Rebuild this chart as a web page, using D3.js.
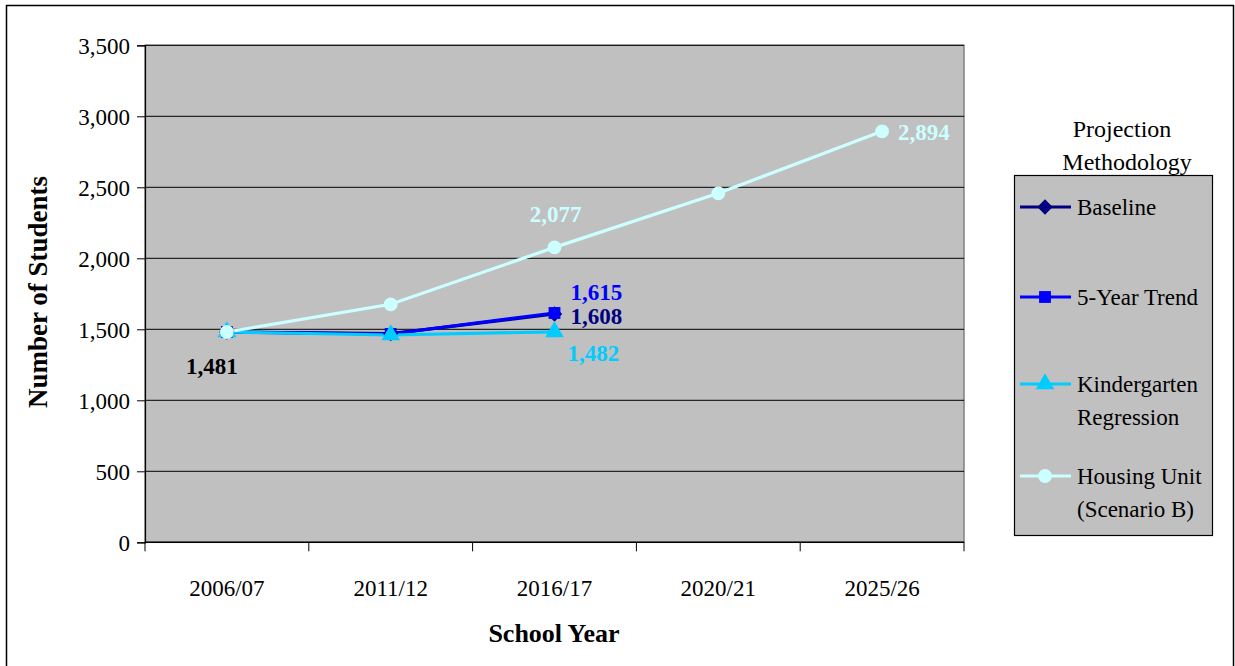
<!DOCTYPE html>
<html><head><meta charset="utf-8">
<script src="https://cdn.jsdelivr.net/npm/d3@7"></script>
<style>body{margin:0;background:#fff;} svg text{font-family:"Liberation Serif","Times New Roman",serif !important;}</style>
</head><body>
<svg id="chart" width="1235" height="666" font-family="Liberation Serif"></svg>
<script>
const categories = ["2006/07","2011/12","2016/17","2020/21","2025/26"];
const seriesNames = ["Baseline","5-Year Trend","Kindergarten Regression","Housing Unit (Scenario B)"];
const baseline = [1481,1470,1608];
const fiveYear = [1481,1467,1615];
const kinder = [1481,1460,1482];
const housing = [1481,1676,2077,2458,2894];
const yTicks = [0,500,1000,1500,2000,2500,3000,3500];

const colors = ["#000080","#0000FF","#00CCFF","#CCFFFF"];
const symbols = [d3.symbolDiamond2 || d3.symbolDiamond, d3.symbolSquare, d3.symbolTriangle, d3.symbolCircle];
const symSizes = [150,140,150,150];
const seriesData = [baseline, fiveYear, kinder, housing];
const FF = "Liberation Serif";

const svg = d3.select("#chart");
svg.append("rect").attr("x",6.5).attr("y",5.5).attr("width",1227).attr("height",680)
  .attr("fill","#fff").attr("stroke","#000").attr("stroke-width",1.5);

const L=145, R=964, T=45.3, B=542.3;
const x = d3.scaleBand().domain(categories).range([L,R]);
const y = d3.scaleLinear().domain([0,3500]).range([B,T]);

svg.append("rect").attr("x",L).attr("y",T).attr("width",R-L).attr("height",B-T)
  .attr("fill","#C0C0C0").attr("stroke","#808080").attr("stroke-width",1.5);

// gridlines
svg.append("g").selectAll("line").data(yTicks.filter(v=>v>0)).join("line")
  .attr("x1",L).attr("x2",R).attr("y1",d=>y(d)).attr("y2",d=>y(d))
  .attr("stroke","#000").attr("stroke-width",1);

// y axis
const yAxis = svg.append("g").attr("transform",`translate(${L},0)`)
  .call(d3.axisLeft(y).tickValues(yTicks).tickFormat(d3.format(",")).tickSize(8).tickPadding(7));
yAxis.attr("font-family",FF);
yAxis.selectAll("text").attr("font-size",23).attr("fill","#000").attr("dy","0.34em");
yAxis.select(".domain").attr("stroke","#000").attr("stroke-width",1.2);
yAxis.selectAll(".tick line").attr("stroke","#000");

// x axis with ticks at band boundaries
const xAxisG = svg.append("g").attr("transform",`translate(0,${B})`);
xAxisG.append("line").attr("x1",L).attr("x2",R).attr("stroke","#000").attr("stroke-width",1.5);
const bounds = categories.map(c=>x(c)).concat([R]);
xAxisG.selectAll("line.tk").data(bounds).join("line").attr("class","tk")
  .attr("x1",d=>d).attr("x2",d=>d).attr("y1",0).attr("y2",9).attr("stroke","#000");
xAxisG.selectAll("text").data(categories).join("text")
  .attr("x",d=>x(d)+x.bandwidth()/2).attr("y",54).attr("text-anchor","middle")
  .attr("font-size",23).attr("fill","#000").text(d=>d);

// axis titles
svg.append("text").attr("x",554).attr("y",642).attr("text-anchor","middle")
  .attr("font-size",26).attr("font-weight","bold").text("School Year");
svg.append("text").attr("transform","translate(47,292) rotate(-90)").attr("text-anchor","middle")
  .attr("font-size",27).attr("font-weight","bold").text("Number of Students");

// series
const cx = i => x(categories[i]) + x.bandwidth()/2;
seriesData.forEach((vals,s)=>{
  const line = d3.line().x((d,i)=>cx(i)).y(d=>y(d));
  svg.append("path").datum(vals).attr("d",line).attr("fill","none")
    .attr("stroke",colors[s]).attr("stroke-width",3.2);
});
seriesData.forEach((vals,s)=>{
  svg.append("g").selectAll("path").data(vals).join("path")
    .attr("transform",(d,i)=>`translate(${cx(i)},${y(d)})`)
    .attr("d",d3.symbol().type(symbols[s]).size(symSizes[s]))
    .attr("fill",colors[s]);
});

// data labels
const fmt = d3.format(",");
const labels = [
  {i:0,v:baseline[0],dx:-15,dy:42,anchor:"middle",color:"#000"},
  {i:2,v:fiveYear[2],dx:16,dy:-13,anchor:"start",color:"#0000FF"},
  {i:2,v:baseline[2],dx:16,dy:10,anchor:"start",color:"#000080"},
  {i:2,v:kinder[2],dx:13,dy:29,anchor:"start",color:"#00CCFF"},
  {i:2,v:housing[2],dx:1,dy:-25,anchor:"middle",color:"#CCFFFF"},
  {i:4,v:housing[4],dx:16,dy:9,anchor:"start",color:"#CCFFFF"}
];
svg.append("g").selectAll("text").data(labels).join("text")
  .attr("x",d=>cx(d.i)+d.dx).attr("y",d=>y(d.v)+d.dy)
  .attr("text-anchor",d=>d.anchor).attr("font-size",23).attr("font-weight","bold")
  .attr("fill",d=>d.color).text(d=>fmt(d.v));

// legend
svg.append("text").attr("x",1122).attr("y",137).attr("text-anchor","middle").attr("font-size",24).text("Projection");
svg.append("text").attr("x",1127).attr("y",170).attr("text-anchor","middle").attr("font-size",24).text("Methodology");
svg.append("rect").attr("x",1014.5).attr("y",175.5).attr("width",198).attr("height",360)
  .attr("fill","#C0C0C0").attr("stroke","#000").attr("stroke-width",1.2);
const legendLines = [["Baseline"],["5-Year Trend"],["Kindergarten","Regression"],["Housing Unit","(Scenario B)"]];
const legendY = [207,297,384,476];
seriesNames.forEach((name,s)=>{
  const g = svg.append("g").attr("transform",`translate(0,${legendY[s]})`);
  g.append("line").attr("x1",1020).attr("x2",1071).attr("stroke",colors[s]).attr("stroke-width",3.2);
  g.append("path").attr("transform","translate(1045,0)")
    .attr("d",d3.symbol().type(symbols[s]).size(symSizes[s])).attr("fill",colors[s]);
  const t = g.append("text").attr("x",1077).attr("y",8).attr("font-size",23).attr("fill","#000");
  legendLines[s].forEach((ln,k)=>t.append("tspan").attr("x",1077).attr("dy",k?33:0).text(ln));
});
</script>
</body></html>
